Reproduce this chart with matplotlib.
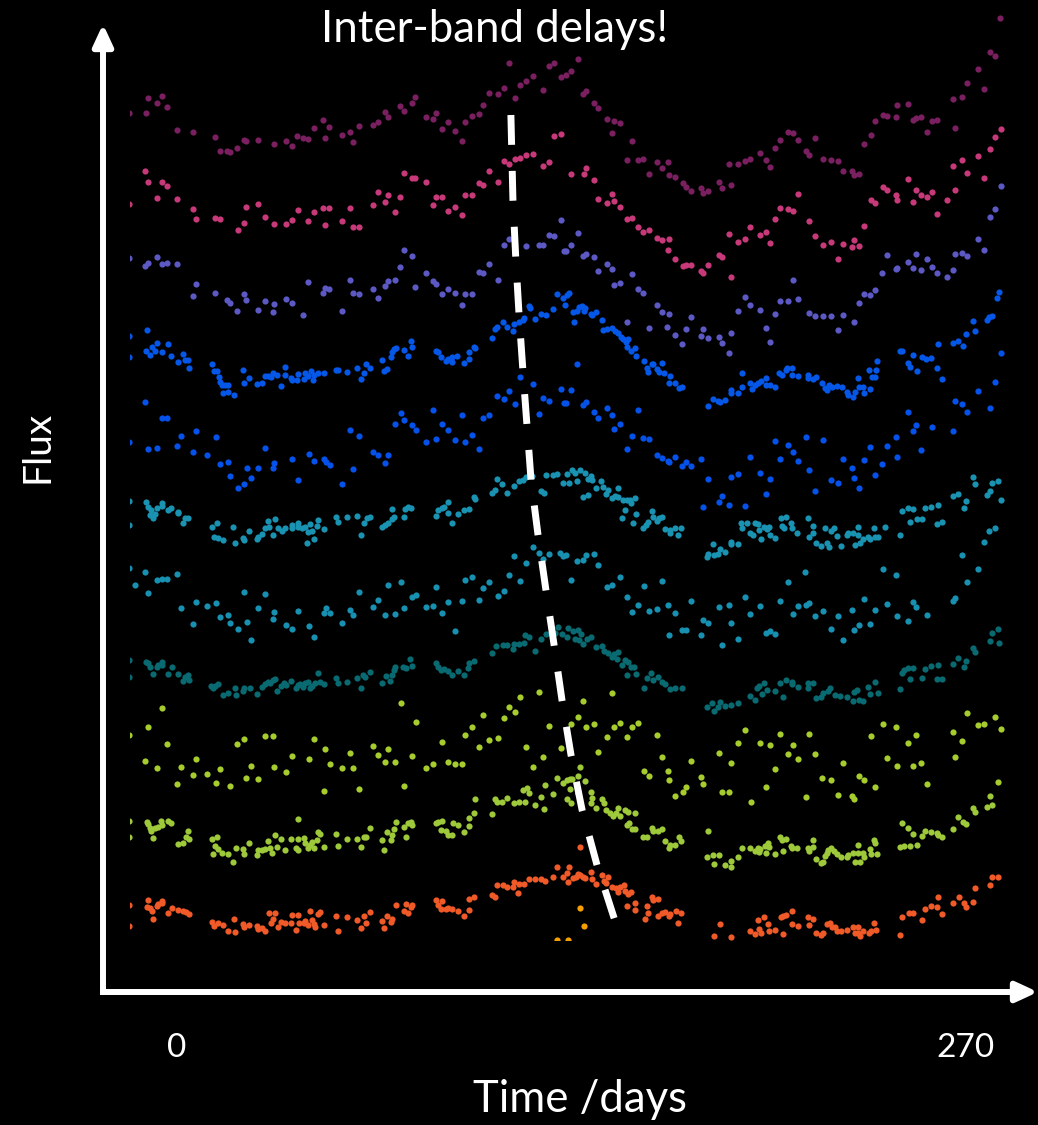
import matplotlib
matplotlib.use("Agg")
import matplotlib.pyplot as plt
from matplotlib.patches import FancyArrowPatch
from matplotlib import transforms

plt.rcParams['font.family'] = ['Lato', 'DejaVu Sans']

# light curves, one list per band: (time in days, flux + band offset)
band1 = [(-16.4, 82.7), (-10.7, 82.7), (-9.8, 84.2), (-6.7, 83.7), (-5.0, 84.4), (-3.3, 83.3), (0.1, 81.0),
         (5.5, 80.8), (13.1, 80.3), (14.6, 78.9), (17.2, 78.9), (18.1, 78.8), (20.7, 79.2), (23.1, 80.0),
         (23.7, 79.9), (27.8, 80.0), (33.2, 79.6), (37.2, 79.9), (39.3, 79.4), (41.2, 80.4), (43.1, 80.2),
         (45.0, 80.1), (46.8, 81.2), (50.1, 82.0), (50.8, 80.2), (52.2, 81.3), (56.6, 80.5), (59.4, 80.8),
         (60.3, 79.8), (62.4, 81.4), (67.0, 81.5), (68.8, 81.8), (71.2, 82.8), (72.3, 82.3), (76.5, 83.4),
         (77.7, 82.9), (80.6, 83.7), (81.6, 84.3), (85.4, 82.3), (87.8, 82.1), (88.8, 82.7), (90.8, 81.1),
         (92.8, 81.8), (95.2, 80.9), (97.6, 79.9), (98.7, 81.8), (101.0, 82.4), (103.4, 82.6), (104.7, 83.5),
         (106.8, 84.7), (109.9, 84.6), (112.1, 85.2), (113.8, 87.7), (115.9, 84.2), (117.6, 85.5), (119.7, 85.9),
         (122.0, 86.4), (125.4, 85.0), (127.4, 87.4), (129.2, 87.7), (131.6, 86.3), (133.2, 86.5), (134.9, 86.9),
         (137.3, 88.1), (139.0, 84.6), (140.0, 84.9), (143.0, 83.7), (144.2, 83.2), (147.3, 82.1), (149.7, 81.9),
         (151.8, 81.7), (149.0, 80.7), (155.9, 79.9), (154.2, 78.0), (157.8, 78.0), (159.8, 78.1), (161.6, 76.6),
         (164.3, 77.8), (166.3, 77.2), (168.3, 77.8), (168.7, 76.5), (170.7, 76.3), (173.4, 75.7), (174.4, 75.3),
         (176.1, 74.9), (179.4, 75.2), (180.2, 74.7), (181.9, 74.9), (185.6, 75.8), (186.6, 75.2), (189.7, 75.5),
         (189.0, 77.6), (192.1, 77.6), (194.5, 77.9), (196.4, 78.1), (199.8, 78.7), (201.9, 78.0), (203.3, 77.3),
         (205.0, 79.2), (206.7, 80.0), (209.2, 80.8), (211.0, 80.7), (212.8, 80.0), (215.4, 78.9), (216.5, 78.5),
         (218.5, 80.2), (221.2, 78.1), (224.2, 78.0), (226.6, 77.9), (228.3, 76.9), (231.4, 76.9), (232.0, 76.5),
         (233.8, 76.6), (235.5, 79.6), (237.8, 80.5), (239.1, 81.9), (241.8, 82.5), (243.1, 82.4), (246.2, 82.3),
         (246.6, 83.5), (250.3, 83.6), (252.1, 82.0), (253.1, 82.2), (254.8, 82.3), (256.8, 80.8), (258.6, 81.9),
         (260.5, 82.0), (265.9, 84.1), (266.5, 81.2), (268.9, 84.3), (270.7, 85.7), (274.4, 87.1), (276.5, 85.1),
         (278.4, 88.8), (280.2, 88.4), (282.1, 92.2)]

band2 = [(-16.4, 73.6), (-10.9, 76.9), (-9.8, 75.8), (-6.7, 74.2), (-5.0, 75.8), (-3.3, 75.4), (0.1, 74.1),
         (5.5, 73.1), (6.5, 72.1), (13.1, 72.2), (14.6, 72.1), (20.8, 71.0), (23.1, 71.7), (23.7, 73.3),
         (27.8, 73.6), (30.1, 72.3), (33.2, 71.6), (37.2, 71.6), (39.3, 72.0), (41.4, 73.0), (45.0, 71.9),
         (46.8, 72.8), (50.1, 73.2), (52.2, 73.2), (50.8, 71.5), (56.6, 71.9), (59.4, 73.2), (60.3, 71.3),
         (62.4, 71.3), (67.0, 73.5), (68.8, 74.8), (71.2, 73.8), (72.3, 74.5), (74.6, 72.8), (76.5, 74.3),
         (77.7, 76.7), (80.6, 76.2), (81.6, 76.2), (85.4, 75.8), (87.8, 73.5), (88.8, 74.3), (90.8, 74.3),
         (92.8, 72.9), (95.2, 73.3), (97.6, 72.5), (98.7, 74.5), (101.0, 74.5), (103.4, 75.7), (104.7, 75.5),
         (106.8, 76.9), (109.9, 75.8), (112.1, 77.9), (113.8, 77.6), (115.9, 78.1), (117.6, 78.2), (119.7, 78.5),
         (122.0, 78.6), (125.4, 77.4), (127.4, 77.8), (129.2, 80.4), (131.6, 80.6), (134.9, 76.6), (139.3, 76.6),
         (140.0, 77.2), (143.0, 76.0), (144.2, 74.1), (147.3, 73.7), (149.0, 74.6), (149.7, 73.9), (151.8, 73.3),
         (154.1, 72.1), (155.9, 72.2), (157.8, 71.3), (159.8, 70.8), (161.6, 71.0), (164.3, 70.2), (166.3, 70.0),
         (168.7, 70.1), (168.3, 69.0), (170.7, 68.1), (173.4, 67.4), (174.4, 67.5), (176.1, 67.5), (179.4, 66.9),
         (180.2, 66.7), (181.9, 67.5), (185.6, 68.5), (186.6, 68.3), (189.7, 66.3), (189.0, 70.6), (192.1, 69.8),
         (194.5, 70.1), (196.4, 71.3), (199.8, 70.5), (201.9, 70.8), (203.3, 69.7), (205.0, 72.1), (206.7, 73.2),
         (209.2, 73.1), (211.0, 72.9), (212.8, 74.6), (216.5, 71.9), (218.5, 70.4), (221.2, 69.5), (224.2, 69.8),
         (226.6, 68.1), (228.3, 69.6), (231.4, 69.3), (232.0, 70.0), (233.8, 69.4), (235.5, 71.4), (237.8, 74.0),
         (239.1, 73.7), (241.8, 75.3), (243.1, 75.0), (246.2, 74.5), (246.6, 74.0), (250.3, 76.1), (252.1, 73.8),
         (253.1, 75.0), (254.8, 74.5), (256.8, 74.3), (258.6, 74.8), (260.5, 72.6), (263.9, 74.0), (266.5, 75.0),
         (265.9, 77.4), (268.9, 78.0), (270.7, 76.7), (274.4, 78.4), (276.5, 76.2), (278.4, 79.1), (280.2, 80.3),
         (282.2, 81.1)]

band3 = [(-16.4, 68.2), (-10.9, 67.4), (-9.8, 67.7), (-6.7, 68.3), (-5.0, 67.6), (-3.3, 67.7), (0.1, 67.6),
         (5.5, 64.4), (6.5, 65.6), (13.1, 64.7), (17.2, 64.0), (18.1, 63.7), (20.7, 62.9), (23.1, 64.6),
         (23.7, 64.0), (27.8, 63.0), (30.1, 63.9), (32.9, 62.8), (33.2, 63.6), (37.2, 64.1), (39.3, 63.7),
         (43.1, 62.5), (45.0, 65.8), (50.1, 64.7), (50.8, 65.2), (52.2, 65.1), (56.6, 62.9), (59.4, 66.0),
         (60.3, 64.7), (62.4, 64.6), (67.0, 65.1), (68.8, 64.2), (71.2, 65.4), (72.3, 65.9), (74.6, 66.0),
         (76.5, 67.3), (77.7, 69.0), (80.6, 68.4), (81.6, 65.3), (85.4, 66.7), (87.8, 65.9), (88.8, 65.6),
         (90.8, 64.6), (92.8, 65.1), (95.2, 64.7), (97.6, 63.5), (98.7, 64.6), (101.0, 64.6), (103.4, 66.8),
         (104.7, 66.7), (106.8, 67.6), (109.9, 66.0), (112.1, 69.5), (113.8, 70.1), (119.7, 69.4), (124.0, 69.5),
         (125.4, 69.5), (127.4, 70.5), (129.2, 70.4), (131.5, 72.0), (132.5, 68.9), (137.3, 70.7), (133.2, 68.9),
         (134.9, 69.5), (139.0, 68.4), (140.0, 68.6), (143.0, 68.3), (144.2, 66.9), (147.3, 67.6), (149.0, 67.1),
         (149.7, 65.5), (151.8, 65.7), (155.9, 66.6), (157.8, 65.1), (159.8, 64.7), (154.1, 61.8), (161.6, 61.2),
         (164.3, 63.5), (166.3, 62.8), (168.7, 62.6), (168.0, 61.3), (170.7, 60.5), (173.1, 59.6), (174.5, 61.1),
         (176.1, 62.3), (179.4, 60.4), (180.2, 61.1), (181.9, 60.2), (185.6, 60.3), (186.6, 59.7), (189.0, 58.7),
         (189.7, 60.7), (192.1, 62.9), (194.5, 64.3), (196.4, 63.5), (199.8, 63.0), (201.9, 61.2), (203.3, 59.8),
         (205.0, 62.6), (206.7, 63.9), (209.2, 63.9), (211.0, 66.0), (212.8, 64.1), (216.5, 62.7), (218.5, 62.4),
         (221.2, 62.4), (224.2, 62.4), (226.6, 61.0), (228.3, 62.5), (232.0, 61.8), (233.8, 63.7), (235.5, 64.6),
         (237.4, 64.5), (239.1, 65.0), (241.5, 66.7), (243.1, 68.5), (246.2, 67.1), (246.6, 67.2), (250.3, 67.8),
         (252.1, 67.2), (253.1, 68.6), (254.8, 67.0), (256.8, 68.1), (258.6, 67.3), (260.5, 66.7), (263.9, 66.3),
         (265.9, 67.0), (266.5, 68.6), (268.9, 68.7), (270.7, 68.4), (274.4, 70.1), (276.5, 69.0), (278.4, 72.3),
         (280.2, 73.1), (282.2, 75.4)]

band4 = [(-16.4, 60.4), (-16.4, 58.3), (-10.2, 61.0), (-10.5, 58.9), (-9.1, 58.5), (-8.7, 59.3), (-7.4, 58.9),
         (-6.7, 59.7), (-5.0, 58.8), (-3.0, 59.6), (-2.0, 58.4), (0.3, 57.8), (2.2, 58.6), (2.8, 58.0),
         (3.9, 58.0), (4.2, 57.2), (12.0, 57.6), (12.7, 56.9), (13.7, 56.9), (14.4, 56.3), (14.7, 55.8),
         (15.4, 55.5), (16.4, 55.5), (17.6, 55.5), (15.7, 54.7), (17.6, 54.8), (19.6, 54.5), (22.7, 57.0),
         (23.1, 55.7), (24.8, 56.2), (27.4, 55.6), (29.1, 55.7), (30.1, 56.4), (31.2, 56.4), (32.2, 56.3),
         (32.9, 56.7), (34.3, 56.5), (35.6, 55.4), (37.0, 57.3), (37.0, 56.5), (39.0, 56.2), (39.5, 56.0),
         (41.2, 56.0), (41.6, 56.6), (43.4, 56.1), (43.8, 56.7), (44.8, 56.4), (45.8, 56.9), (46.5, 56.0),
         (47.0, 56.5), (48.4, 56.7), (50.3, 56.7), (54.6, 57.0), (55.3, 57.0), (58.3, 56.8), (61.7, 57.2),
         (63.0, 56.1), (64.1, 56.7), (64.8, 57.6), (66.1, 57.2), (70.1, 58.0), (70.8, 56.9), (71.8, 57.1),
         (73.2, 58.3), (73.6, 58.8), (74.2, 59.1), (74.9, 59.2), (77.7, 59.0), (79.0, 58.4), (80.1, 59.9),
         (80.6, 59.3), (88.8, 58.9), (89.5, 58.8), (90.6, 58.3), (92.2, 57.9), (92.9, 58.1), (94.3, 58.3),
         (94.3, 57.8), (95.9, 58.4), (98.2, 57.7), (99.9, 58.8), (99.9, 58.1), (101.7, 59.3), (102.0, 59.2),
         (108.0, 60.2), (108.9, 61.1), (109.5, 61.3), (111.7, 61.8), (113.0, 61.3), (115.2, 60.9), (115.6, 61.6),
         (117.2, 61.8), (118.6, 62.0), (119.0, 62.2), (120.5, 63.4), (120.8, 63.2), (122.7, 62.1), (124.7, 62.6),
         (126.5, 62.5), (128.7, 63.1), (130.1, 64.6), (132.1, 64.2), (132.9, 63.5), (133.5, 64.5), (134.3, 64.7),
         (136.1, 61.8), (135.8, 62.8), (137.1, 62.9), (137.7, 63.3), (138.7, 63.4), (139.4, 62.9), (139.8, 63.2),
         (141.8, 62.6), (143.7, 62.8), (142.1, 62.5), (145.7, 62.0), (146.1, 61.0), (147.4, 61.1), (149.1, 61.2),
         (150.1, 60.9), (151.2, 60.7), (152.1, 60.3), (152.9, 60.1), (153.8, 59.8), (154.6, 60.1), (154.2, 59.3),
         (155.5, 58.9), (156.9, 59.2), (157.2, 58.4), (159.9, 57.9), (161.0, 57.2), (161.3, 56.8), (162.6, 57.6),
         (163.2, 57.6), (164.6, 57.1), (165.1, 56.8), (166.3, 57.7), (167.0, 56.7), (168.8, 56.4), (168.7, 55.7),
         (170.7, 55.7), (172.0, 55.2), (172.9, 55.3), (181.8, 53.4), (183.7, 54.1), (185.5, 53.9), (186.0, 53.8),
         (187.7, 54.0), (189.7, 55.0), (189.7, 54.7), (192.3, 54.7), (193.5, 55.3), (193.5, 56.7), (196.2, 55.7),
         (197.1, 55.1), (198.0, 55.5), (199.2, 55.7), (200.0, 55.9), (201.9, 56.2), (201.9, 55.5), (203.2, 55.5),
         (204.9, 55.3), (206.2, 56.7), (207.2, 56.5), (208.5, 57.0), (209.0, 57.2), (210.8, 57.2), (210.8, 56.5),
         (212.7, 56.4), (216.1, 56.5), (216.3, 56.2), (218.0, 56.1), (218.9, 56.3), (220.9, 55.7), (222.0, 55.2),
         (222.8, 55.0), (223.4, 55.5), (224.3, 55.3), (226.0, 55.4), (227.7, 55.3), (229.6, 54.8), (230.0, 54.5),
         (231.7, 54.3), (232.3, 54.8), (233.2, 56.2), (233.7, 55.3), (235.1, 55.3), (235.5, 54.7), (237.1, 57.0),
         (237.4, 55.1), (238.2, 56.3), (239.1, 56.3), (239.4, 57.0), (239.8, 57.9), (247.7, 58.9), (248.5, 58.9),
         (252.1, 58.5), (250.5, 57.7), (251.2, 57.3), (253.4, 56.9), (255.1, 58.3), (256.5, 58.1), (258.3, 58.2),
         (260.3, 57.2), (260.8, 59.6), (262.2, 56.1), (265.8, 59.7), (267.7, 59.9), (269.4, 59.4), (270.3, 60.6),
         (273.4, 60.9), (272.8, 61.9), (277.4, 62.0), (278.3, 62.3), (279.1, 62.4), (281.0, 64.2), (281.7, 64.8)]

band5 = [(-10.9, 53.8), (-16.4, 49.8), (-9.8, 49.1), (-6.7, 49.2), (-5.0, 52.2), (-3.3, 52.2), (0.1, 49.4),
         (1.5, 50.4), (5.5, 48.8), (6.5, 50.9), (10.2, 48.5), (13.3, 50.3), (14.6, 47.6), (17.4, 47.8),
         (18.1, 46.4), (20.8, 45.2), (23.1, 45.6), (23.9, 47.2), (25.5, 46.2), (27.9, 47.2), (30.3, 49.2),
         (33.0, 47.2), (33.3, 47.7), (39.4, 48.1), (41.4, 46.0), (45.1, 48.6), (46.8, 47.9), (50.3, 48.1),
         (50.9, 47.8), (52.3, 47.5), (56.6, 45.6), (59.4, 51.0), (60.4, 47.1), (62.5, 50.4), (67.2, 48.8),
         (68.9, 48.5), (71.3, 47.7), (72.3, 48.5), (74.7, 51.6), (76.6, 52.7), (77.7, 52.0), (80.6, 51.5),
         (81.8, 51.0), (85.4, 49.8), (87.8, 53.0), (88.8, 50.1), (90.9, 51.6), (92.9, 51.0), (95.2, 50.0),
         (97.6, 52.5), (98.6, 49.8), (101.0, 50.5), (103.4, 49.1), (104.7, 52.2), (106.8, 52.5), (109.7, 54.4),
         (112.1, 54.1), (113.8, 54.9), (115.9, 53.6), (117.6, 56.3), (122.0, 55.6), (124.0, 52.6), (125.4, 54.2),
         (127.4, 53.9), (131.5, 55.1), (132.5, 53.7), (133.2, 53.7), (134.9, 55.0), (137.1, 57.6), (139.0, 53.5),
         (140.0, 53.8), (143.0, 52.8), (144.2, 52.2), (147.3, 53.2), (149.0, 52.5), (149.7, 51.1), (151.8, 51.6),
         (154.1, 49.1), (155.9, 50.4), (157.8, 53.0), (159.8, 50.2), (161.6, 50.1), (164.3, 48.5), (166.3, 48.2),
         (168.3, 47.9), (168.7, 47.8), (170.7, 48.3), (173.1, 47.4), (174.5, 47.8), (176.1, 47.4), (179.4, 48.1),
         (181.9, 46.1), (180.2, 43.3), (185.6, 43.8), (186.6, 44.4), (189.0, 43.5), (189.7, 46.3), (192.1, 46.6),
         (194.5, 43.4), (196.4, 48.3), (199.8, 46.7), (201.9, 44.6), (203.3, 46.1), (205.0, 49.9), (206.7, 48.1),
         (209.2, 49.5), (211.0, 48.8), (212.8, 47.9), (215.4, 50.3), (216.5, 47.0), (218.5, 44.9), (221.2, 50.0),
         (224.2, 46.0), (226.6, 45.7), (228.3, 48.1), (231.4, 47.2), (232.0, 46.2), (233.8, 45.2), (235.5, 48.0),
         (237.4, 49.3), (239.1, 46.5), (241.5, 47.6), (243.1, 49.4), (246.2, 50.3), (246.6, 48.3), (250.3, 52.8),
         (252.1, 50.9), (253.1, 51.5), (254.8, 49.0), (258.6, 51.3), (265.9, 50.9), (266.5, 53.9), (268.9, 53.6),
         (270.7, 52.8), (274.4, 54.9), (278.4, 53.2), (280.2, 55.8), (282.2, 58.7)]

band6 = [(-16.4, 43.9), (-16.4, 41.5), (-10.5, 43.8), (-9.8, 43.3), (-8.9, 43.0), (-9.1, 42.5), (-8.1, 42.2),
         (-7.5, 42.6), (-6.7, 43.2), (-5.2, 43.7), (-5.0, 43.4), (-3.0, 43.0), (-2.0, 43.2), (0.3, 42.8),
         (0.4, 42.7), (2.2, 41.7), (2.7, 42.2), (3.9, 42.2), (12.1, 41.3), (13.6, 41.7), (12.8, 40.3),
         (14.1, 40.2), (15.8, 40.0), (19.9, 39.7), (19.3, 41.3), (22.7, 40.2), (23.0, 40.0), (24.8, 40.9),
         (27.4, 40.1), (27.6, 40.3), (29.1, 40.6), (30.1, 41.2), (31.3, 41.9), (31.5, 41.3), (33.0, 40.5),
         (33.6, 42.1), (34.7, 41.2), (35.9, 40.9), (37.0, 41.2), (39.3, 41.5), (39.3, 41.2), (41.6, 41.7),
         (41.4, 41.3), (42.7, 41.2), (43.9, 41.3), (44.8, 40.8), (44.4, 39.7), (45.6, 41.6), (46.1, 40.9),
         (47.0, 40.1), (47.9, 41.4), (48.4, 42.0), (50.3, 41.1), (54.5, 42.3), (55.3, 41.8), (58.3, 42.3),
         (61.8, 42.4), (63.0, 40.5), (64.1, 41.7), (65.0, 42.2), (66.1, 42.3), (70.1, 41.3), (71.3, 41.5),
         (72.4, 41.7), (73.6, 42.1), (74.3, 42.3), (73.6, 43.1), (77.7, 42.3), (78.1, 43.1), (79.0, 43.3),
         (80.1, 43.2), (88.8, 42.4), (89.5, 43.0), (90.7, 43.2), (91.6, 43.3), (92.7, 43.8), (92.9, 42.7),
         (94.3, 41.7), (96.2, 42.6), (98.2, 43.0), (99.9, 43.1), (101.7, 44.3), (102.0, 44.1), (107.8, 44.7),
         (108.9, 45.0), (109.5, 46.1), (111.4, 45.6), (113.0, 44.7), (115.6, 45.4), (117.2, 45.9), (118.6, 46.0),
         (119.7, 46.3), (121.7, 46.4), (124.7, 44.9), (125.8, 44.7), (126.4, 46.5), (128.9, 46.5), (130.2, 46.6),
         (132.1, 45.7), (133.5, 46.6), (134.3, 45.7), (135.2, 47.0), (136.4, 46.7), (137.1, 45.9), (138.1, 47.0),
         (139.8, 46.7), (139.2, 44.3), (140.7, 44.5), (140.9, 46.1), (141.8, 46.4), (142.3, 46.0), (143.7, 45.2),
         (145.3, 45.9), (145.8, 45.3), (146.9, 44.6), (147.8, 45.0), (149.1, 44.2), (150.1, 44.4), (151.2, 45.2),
         (151.2, 44.3), (152.9, 44.0), (153.5, 43.0), (152.4, 42.2), (154.1, 44.0), (155.2, 44.0), (155.5, 43.7),
         (156.9, 44.2), (157.2, 42.6), (156.3, 41.7), (159.8, 41.2), (160.6, 41.5), (161.3, 41.8), (162.6, 42.9),
         (163.2, 42.3), (164.3, 41.9), (165.1, 42.2), (166.3, 42.3), (167.2, 41.1), (168.9, 40.7), (168.9, 41.0),
         (170.7, 41.2), (171.7, 40.5), (172.7, 41.2), (181.6, 38.3), (182.0, 38.6), (183.6, 39.6), (183.9, 38.5),
         (185.5, 38.6), (185.9, 39.1), (187.7, 38.8), (189.7, 39.6), (189.7, 39.8), (192.3, 39.6), (193.2, 41.7),
         (193.5, 41.2), (195.2, 41.7), (196.2, 40.7), (197.4, 40.5), (198.0, 41.7), (199.2, 41.6), (199.4, 41.0),
         (200.1, 40.1), (201.2, 41.3), (202.0, 41.1), (202.9, 41.3), (203.2, 40.5), (204.9, 40.2), (206.8, 42.2),
         (207.2, 41.4), (208.1, 41.2), (208.5, 42.3), (210.4, 41.7), (210.8, 41.2), (212.4, 40.7), (216.1, 42.2),
         (216.5, 40.3), (218.0, 41.4), (218.0, 40.7), (218.8, 39.7), (220.6, 39.4), (222.0, 41.2), (222.6, 39.7),
         (223.5, 39.3), (224.1, 40.9), (225.2, 41.2), (226.0, 40.4), (227.5, 39.4), (229.4, 40.5), (230.0, 40.7),
         (231.5, 40.7), (232.3, 39.5), (233.2, 41.3), (233.4, 40.5), (234.0, 39.7), (235.1, 40.1), (236.8, 40.3),
         (237.4, 40.1), (238.9, 41.2), (239.1, 40.3), (240.1, 40.3), (242.6, 41.3), (247.7, 40.5), (248.3, 42.9),
         (250.5, 43.2), (251.2, 41.8), (252.3, 43.1), (253.4, 42.1), (255.1, 42.1), (256.3, 43.2), (258.3, 43.3),
         (260.3, 41.6), (260.8, 43.5), (262.2, 41.8), (265.9, 44.4), (267.7, 44.6), (269.7, 43.2), (270.3, 43.9),
         (272.8, 46.3), (273.4, 45.6), (277.4, 44.5), (278.5, 44.9), (279.1, 45.7), (281.2, 45.9), (282.3, 44.0)]

band7 = [(-16.4, 37.2), (-14.4, 35.5), (-10.9, 36.8), (-6.7, 36.0), (-5.0, 36.1), (-3.3, 36.1), (0.1, 36.6),
         (-9.8, 34.7), (1.5, 33.2), (5.5, 31.6), (6.5, 33.8), (10.2, 33.4), (13.3, 33.7), (14.6, 32.3),
         (17.4, 32.5), (18.1, 31.7), (20.8, 31.1), (23.1, 34.8), (23.9, 31.8), (25.5, 30.0), (27.9, 33.2),
         (30.3, 34.6), (33.0, 32.1), (33.3, 32.8), (37.3, 31.5), (39.4, 31.1), (41.4, 32.9), (45.1, 31.4),
         (46.8, 30.3), (50.3, 32.7), (50.9, 33.2), (52.3, 32.7), (56.6, 31.7), (59.4, 33.0), (60.4, 32.5),
         (62.5, 34.8), (67.2, 33.3), (68.9, 34.0), (71.3, 32.5), (72.3, 35.5), (74.7, 32.6), (76.6, 35.8),
         (77.7, 33.2), (80.6, 34.3), (81.8, 34.5), (85.4, 33.3), (87.8, 33.4), (88.8, 35.3), (90.9, 32.7),
         (92.9, 33.8), (95.2, 30.9), (97.6, 33.9), (98.6, 36.0), (101.0, 36.3), (103.4, 34.0), (104.7, 35.2),
         (106.8, 35.8), (109.9, 34.4), (112.1, 34.9), (113.8, 36.5), (117.6, 35.9), (115.4, 38.4), (119.6, 37.7),
         (122.0, 39.3), (124.0, 38.7), (125.4, 38.1), (127.4, 38.6), (131.3, 38.7), (132.1, 38.4), (133.2, 38.5),
         (137.1, 37.9), (139.0, 38.0), (140.0, 38.5), (143.0, 38.6), (144.2, 37.5), (134.9, 36.0), (147.4, 35.3),
         (149.1, 35.5), (151.8, 36.3), (159.9, 35.4), (166.3, 35.9), (154.1, 34.3), (155.8, 32.8), (157.8, 33.5),
         (161.6, 32.9), (164.3, 33.1), (168.3, 33.5), (170.7, 32.7), (168.7, 30.5), (173.1, 31.0), (174.5, 31.0),
         (176.1, 33.9), (179.4, 30.5), (180.2, 32.0), (181.9, 31.7), (185.6, 33.3), (186.6, 29.5), (189.0, 33.5),
         (189.7, 31.7), (192.1, 30.1), (194.5, 34.3), (196.4, 32.6), (199.8, 33.4), (201.9, 30.7), (203.3, 30.9),
         (205.0, 30.6), (206.7, 33.9), (209.2, 35.8), (211.0, 32.6), (212.8, 33.4), (215.0, 36.8), (215.4, 33.5),
         (216.5, 33.7), (218.5, 32.4), (221.2, 32.9), (224.2, 31.1), (226.6, 32.4), (228.3, 30.0), (231.4, 33.0),
         (232.0, 31.0), (233.8, 31.5), (235.5, 34.1), (237.4, 31.6), (239.1, 33.0), (241.8, 37.1), (243.1, 33.6),
         (246.2, 36.5), (246.6, 32.4), (250.3, 31.9), (252.1, 33.8), (253.1, 33.3), (256.8, 32.5), (265.9, 33.9),
         (266.5, 34.2), (268.9, 38.5), (270.7, 35.8), (274.4, 37.1), (276.4, 39.8), (278.3, 40.9), (280.2, 41.2)]

band8 = [(-16.4, 28.0), (-16.4, 26.3), (-10.5, 27.8), (-10.0, 27.7), (-9.1, 27.3), (-8.1, 26.6), (-7.0, 27.3),
         (-6.4, 27.5), (-5.0, 27.8), (-5.0, 27.5), (-3.0, 26.6), (-1.8, 27.3), (0.4, 26.6), (2.2, 25.9),
         (2.8, 26.3), (3.9, 26.5), (4.1, 26.0), (11.6, 25.4), (12.4, 25.2), (13.0, 25.4), (14.1, 25.6),
         (15.9, 24.5), (17.6, 24.7), (19.9, 25.2), (20.2, 24.5), (22.7, 24.9), (23.1, 25.2), (25.0, 25.2),
         (27.5, 24.6), (29.0, 25.3), (30.1, 25.6), (31.1, 25.8), (32.0, 25.7), (33.0, 26.0), (33.6, 26.1),
         (34.2, 24.9), (35.6, 25.4), (36.8, 25.7), (37.2, 25.5), (39.1, 25.9), (40.7, 25.2), (41.4, 25.5),
         (42.0, 25.6), (43.3, 25.3), (43.9, 25.7), (45.0, 25.8), (45.7, 25.2), (46.4, 25.4), (47.3, 25.7),
         (48.4, 26.7), (49.0, 25.8), (50.5, 25.6), (54.5, 26.2), (55.3, 25.7), (58.3, 25.8), (61.8, 26.2),
         (63.0, 25.2), (63.8, 26.5), (64.4, 26.3), (66.1, 26.8), (70.1, 25.7), (71.6, 26.4), (73.0, 25.9),
         (73.6, 26.5), (74.2, 27.0), (74.7, 27.3), (77.5, 27.3), (78.4, 27.2), (79.8, 28.1), (80.6, 27.4),
         (88.7, 27.7), (89.5, 27.3), (90.4, 27.0), (91.6, 27.1), (92.7, 26.9), (94.3, 26.5), (96.2, 26.9),
         (98.2, 26.5), (99.8, 27.2), (100.1, 27.7), (101.9, 27.9), (108.0, 28.7), (109.2, 29.4), (111.8, 29.5),
         (113.1, 29.5), (115.2, 29.1), (115.4, 29.6), (117.2, 29.6), (119.0, 29.7), (119.2, 30.5), (120.6, 30.3),
         (122.7, 28.9), (124.7, 30.1), (126.4, 30.6), (129.5, 30.7), (132.0, 30.6), (130.4, 31.3), (133.5, 30.3),
         (134.1, 31.2), (135.8, 30.9), (136.4, 30.1), (137.3, 31.0), (137.7, 30.0), (138.4, 30.6), (139.2, 29.6),
         (140.4, 30.1), (141.8, 30.3), (143.7, 29.3), (145.5, 29.4), (146.4, 28.9), (147.8, 28.7), (149.1, 28.3),
         (149.8, 28.6), (150.6, 28.1), (151.2, 28.8), (152.4, 27.5), (153.5, 28.0), (154.1, 26.5), (154.6, 27.8),
         (155.5, 27.3), (156.7, 27.3), (157.2, 26.6), (160.1, 25.2), (160.9, 26.2), (162.4, 26.7), (163.2, 26.0),
         (164.9, 26.3), (166.1, 25.8), (167.2, 25.6), (168.9, 25.1), (170.6, 25.2), (172.9, 25.2), (181.6, 23.3),
         (183.2, 23.7), (183.9, 22.9), (185.5, 23.3), (186.0, 23.8), (187.7, 23.4), (189.7, 23.5), (192.3, 23.7),
         (196.2, 24.4), (198.0, 24.0), (198.6, 25.2), (199.4, 25.4), (200.3, 24.6), (201.2, 25.7), (202.0, 25.0),
         (204.9, 24.9), (206.7, 25.7), (207.6, 24.3), (208.5, 26.0), (210.8, 25.8), (210.6, 25.6), (212.9, 25.3),
         (216.3, 25.7), (216.1, 25.2), (218.0, 25.7), (218.8, 24.2), (220.6, 24.3), (221.4, 24.7), (222.9, 24.9),
         (223.7, 25.2), (225.4, 24.5), (227.1, 24.4), (229.4, 24.3), (231.7, 23.9), (232.0, 24.8), (233.0, 25.0),
         (233.8, 24.0), (235.1, 23.9), (236.8, 25.3), (237.4, 24.6), (239.1, 25.8), (240.1, 24.7), (247.7, 25.1),
         (248.3, 26.7), (249.2, 27.0), (250.5, 27.2), (251.2, 26.1), (252.3, 27.2), (255.1, 26.2), (256.3, 27.1),
         (258.3, 27.4), (260.3, 26.1), (260.8, 27.5), (262.2, 26.1), (265.9, 27.6), (267.7, 28.2), (269.7, 27.3),
         (270.3, 27.9), (272.8, 29.2), (273.4, 28.8), (278.5, 29.9), (279.1, 30.7), (281.2, 31.1), (281.7, 29.7)]

band9 = [(-16.4, 20.5), (-9.8, 21.3), (-5.0, 23.2), (-10.9, 17.9), (-6.7, 17.2), (-3.3, 19.6), (1.5, 17.3),
         (6.5, 18.1), (14.6, 17.1), (20.7, 19.6), (23.1, 20.1), (25.5, 17.4), (30.3, 20.4), (33.0, 20.4),
         (33.3, 17.3), (39.4, 18.4), (45.1, 18.1), (46.8, 20.1), (50.8, 19.1), (52.3, 17.6), (56.6, 17.2),
         (59.4, 18.7), (60.4, 17.2), (67.2, 19.4), (68.9, 18.5), (71.3, 17.8), (72.3, 19.1), (74.7, 17.8),
         (76.6, 23.7), (80.6, 18.4), (81.8, 21.8), (85.4, 17.2), (87.8, 17.6), (90.9, 19.8), (92.9, 17.8),
         (95.2, 17.6), (97.6, 17.6), (98.6, 20.5), (101.0, 21.3), (103.4, 19.3), (104.7, 22.5), (106.8, 20.0),
         (109.9, 20.2), (112.1, 22.2), (113.8, 23.3), (115.9, 22.8), (117.6, 24.3), (119.7, 19.3), (122.0, 17.3),
         (124.0, 24.8), (125.4, 18.3), (127.4, 21.4), (131.6, 19.2), (139.0, 23.9), (149.1, 24.7), (137.3, 22.3),
         (134.9, 21.6), (140.0, 21.3), (143.0, 21.6), (144.2, 18.8), (147.4, 20.3), (149.8, 21.3), (151.8, 21.7),
         (154.1, 20.3), (155.8, 21.3), (157.8, 21.7), (164.3, 20.5), (166.3, 18.3), (176.1, 17.9), (185.6, 18.7),
         (189.7, 17.7), (192.1, 19.7), (194.5, 21.0), (199.8, 19.7), (203.3, 19.5), (206.7, 20.6), (209.2, 18.6),
         (211.0, 19.5), (212.8, 18.1), (216.5, 20.6), (218.5, 18.6), (228.3, 17.7), (237.8, 20.4), (241.8, 21.6),
         (243.1, 18.2), (246.2, 21.3), (246.6, 17.4), (250.3, 19.7), (252.1, 17.4), (253.1, 20.5), (254.8, 17.7),
         (265.9, 20.8), (266.5, 18.3), (268.9, 19.9), (270.7, 22.7), (274.4, 21.5), (276.5, 21.6), (280.2, 22.3),
         (282.2, 21.1), (0.0, 15.6), (5.5, 16.5), (10.2, 16.6), (13.3, 15.7), (18.1, 15.4), (23.7, 16.2),
         (27.9, 16.1), (37.3, 16.8), (50.3, 14.9), (62.5, 15.1), (77.7, 15.4), (159.9, 16.9), (161.6, 16.4),
         (168.3, 16.9), (168.7, 16.0), (170.7, 14.4), (173.5, 14.8), (174.5, 15.3), (179.5, 16.3), (180.3, 15.6),
         (186.6, 14.8), (189.0, 14.8), (196.5, 13.8), (201.9, 15.3), (205.0, 17.1), (215.4, 14.3), (221.1, 16.2),
         (224.2, 16.0), (226.6, 14.5), (231.2, 14.4), (232.0, 14.1), (233.8, 16.4), (235.5, 16.0), (239.1, 15.3),
         (256.8, 15.6), (281.2, 15.8)]

band10 = [(-16.4, 11.9), (-16.4, 10.3), (-10.4, 11.8), (-9.8, 11.6), (-8.9, 10.9), (-9.3, 11.2), (-8.1, 10.2),
          (-7.5, 11.2), (-6.4, 11.3), (-5.5, 11.9), (-5.0, 11.5), (-3.2, 11.9), (-2.1, 11.7), (0.4, 9.6),
          (2.2, 9.7), (3.0, 10.3), (3.9, 10.9), (4.1, 10.1), (11.9, 10.1), (13.6, 10.3), (12.2, 8.6),
          (13.0, 9.4), (13.9, 9.1), (15.5, 8.7), (17.6, 8.6), (19.3, 7.8), (20.1, 9.2), (22.7, 9.1),
          (23.1, 8.6), (24.8, 9.7), (27.4, 8.5), (27.6, 9.0), (29.1, 9.0), (30.1, 9.1), (31.1, 9.9),
          (32.0, 9.2), (32.4, 8.7), (33.6, 10.5), (34.2, 9.3), (35.6, 10.1), (37.0, 9.0), (39.1, 10.1),
          (40.7, 9.2), (41.4, 10.1), (41.6, 9.0), (43.4, 10.2), (43.9, 9.7), (44.8, 9.2), (45.6, 9.5),
          (46.1, 9.8), (47.0, 9.2), (47.9, 10.0), (48.4, 10.8), (49.0, 10.6), (50.3, 9.3), (41.4, 12.1),
          (54.6, 10.6), (55.3, 9.4), (58.3, 10.1), (61.8, 10.1), (63.0, 9.3), (64.1, 10.3), (64.8, 10.3),
          (66.1, 11.2), (70.1, 10.0), (70.8, 9.0), (71.8, 10.8), (73.3, 10.0), (73.6, 10.5), (74.2, 11.1),
          (74.9, 11.8), (77.7, 11.3), (78.4, 10.3), (79.0, 11.7), (80.1, 11.8), (80.6, 11.5), (88.6, 11.7),
          (89.5, 11.8), (90.7, 11.9), (90.4, 11.0), (92.1, 10.9), (92.7, 10.5), (94.3, 10.5), (94.7, 11.7),
          (96.2, 11.5), (98.2, 10.8), (99.9, 11.4), (99.9, 12.2), (101.7, 12.7), (102.0, 14.1), (107.8, 12.6),
          (108.9, 14.1), (109.5, 13.8), (111.4, 13.8), (113.0, 14.2), (115.6, 13.7), (117.2, 13.8), (119.2, 13.8),
          (118.6, 15.0), (119.8, 15.2), (120.6, 14.7), (122.7, 13.5), (124.7, 14.3), (125.8, 13.1), (126.2, 15.5),
          (128.8, 14.6), (130.2, 16.2), (132.1, 15.7), (133.5, 16.0), (134.6, 16.1), (135.4, 16.1), (137.5, 16.4),
          (138.2, 17.3), (139.8, 15.9), (134.6, 15.1), (133.5, 14.1), (135.0, 13.7), (137.5, 14.7), (141.8, 14.8),
          (142.1, 14.2), (141.8, 13.7), (143.7, 13.2), (145.5, 14.1), (146.4, 13.7), (146.9, 13.0), (148.3, 12.7),
          (149.5, 12.4), (150.3, 12.7), (151.2, 13.2), (151.8, 12.4), (153.5, 13.0), (154.6, 12.8), (154.1, 11.5),
          (154.9, 11.7), (156.9, 12.7), (156.0, 11.1), (156.9, 11.1), (159.8, 10.3), (160.9, 10.3), (162.6, 11.2),
          (163.2, 10.9), (164.9, 10.9), (166.3, 11.1), (167.2, 9.9), (168.7, 9.2), (168.9, 9.5), (170.7, 9.5),
          (172.0, 10.3), (172.7, 9.9), (181.9, 10.9), (181.6, 8.3), (183.7, 8.5), (183.9, 7.6), (185.6, 8.5),
          (187.7, 7.5), (189.7, 7.9), (189.7, 7.3), (192.3, 8.3), (193.5, 9.2), (196.3, 9.2), (198.0, 8.9),
          (198.9, 9.2), (199.4, 8.8), (199.7, 9.1), (201.4, 9.4), (201.7, 8.7), (202.6, 9.7), (202.8, 9.3),
          (204.9, 8.6), (206.6, 10.3), (207.2, 10.0), (208.5, 10.1), (207.6, 8.9), (210.4, 9.4), (210.8, 9.2),
          (212.4, 9.2), (216.1, 9.2), (216.5, 8.9), (218.0, 10.0), (218.0, 9.3), (218.8, 8.1), (220.6, 7.7),
          (221.4, 7.8), (222.0, 8.4), (222.6, 8.7), (223.1, 9.0), (224.1, 9.2), (225.2, 8.9), (226.0, 8.6),
          (227.5, 8.3), (229.4, 8.3), (229.8, 8.5), (231.7, 8.7), (232.3, 7.8), (233.2, 9.5), (233.4, 8.7),
          (234.0, 7.8), (235.1, 8.7), (235.5, 8.3), (237.4, 9.1), (237.8, 8.6), (238.9, 10.0), (239.1, 9.7),
          (239.8, 8.6), (247.7, 9.3), (248.3, 11.7), (249.2, 9.4), (250.5, 11.2), (251.2, 9.4), (252.3, 10.6),
          (253.4, 9.5), (255.1, 10.4), (256.3, 10.9), (258.3, 10.8), (260.3, 10.7), (260.8, 10.5), (262.2, 10.3),
          (265.9, 11.1), (267.7, 12.3), (269.4, 11.8), (270.3, 11.6), (272.8, 13.2), (273.4, 12.8), (277.4, 13.3),
          (278.4, 14.4), (279.1, 13.5)]

band11 = [(-16.4, 3.5), (-16.4, 1.4), (-10.4, 3.3), (-10.0, 4.0), (-9.3, 3.2), (-8.7, 2.9), (-8.1, 2.1),
          (-7.0, 3.4), (-6.4, 3.6), (-5.2, 3.7), (-5.0, 3.9), (-3.0, 2.7), (-1.8, 3.2), (0.4, 3.0),
          (2.2, 2.9), (3.0, 2.8), (4.1, 2.6), (11.9, 1.8), (12.8, 1.4), (14.1, 1.7), (15.9, 1.5),
          (17.6, 0.9), (19.9, 0.8), (19.6, 2.1), (22.7, 1.6), (23.1, 1.3), (24.7, 1.5), (27.4, 1.4),
          (27.9, 1.1), (29.2, 1.2), (30.1, 0.9), (31.5, 2.7), (32.1, 1.7), (33.6, 2.7), (33.0, 2.1),
          (34.5, 1.3), (35.6, 1.8), (37.0, 1.7), (39.1, 1.7), (39.3, 2.5), (40.7, 1.0), (41.4, 2.5),
          (41.8, 1.7), (43.4, 1.7), (43.9, 1.9), (44.8, 1.5), (45.7, 2.9), (46.1, 2.0), (46.8, 1.6),
          (47.3, 1.3), (48.4, 2.6), (49.0, 2.8), (50.3, 1.5), (54.6, 2.4), (55.3, 0.9), (58.3, 2.3),
          (61.8, 2.0), (63.0, 1.2), (64.1, 2.4), (64.8, 1.7), (66.1, 2.8), (70.1, 1.9), (70.8, 1.2),
          (71.8, 2.4), (73.3, 1.8), (73.6, 2.1), (74.9, 3.5), (77.7, 2.9), (78.4, 3.6), (79.0, 2.7),
          (80.1, 3.3), (80.6, 3.5), (88.8, 4.0), (90.7, 3.9), (89.5, 3.5), (90.4, 3.1), (92.1, 3.1),
          (92.7, 3.2), (94.3, 3.1), (96.2, 2.9), (98.2, 2.4), (99.9, 3.0), (99.9, 4.1), (101.9, 4.3),
          (108.0, 4.5), (108.9, 4.3), (109.5, 5.5), (111.8, 5.5), (113.0, 5.3), (115.2, 5.3), (115.6, 5.8),
          (116.9, 4.7), (117.2, 5.6), (119.0, 5.6), (120.6, 6.1), (122.7, 6.1), (124.7, 6.1), (126.2, 5.9),
          (128.7, 6.3), (130.2, 7.3), (132.1, 6.3), (133.5, 6.7), (134.3, 7.3), (133.9, 5.8), (135.8, 6.2),
          (136.6, 6.3), (137.5, 6.6), (138.1, 6.5), (139.2, 6.3), (139.8, 6.2), (141.8, 6.8), (142.1, 6.1),
          (143.7, 5.6), (145.5, 6.5), (146.4, 5.9), (146.9, 5.7), (147.8, 6.3), (149.1, 5.3), (150.3, 5.2),
          (151.2, 4.8), (151.8, 5.3), (153.2, 5.5), (153.5, 4.9), (154.6, 4.6), (155.5, 4.8), (154.1, 3.4),
          (156.9, 3.7), (156.9, 3.0), (160.3, 2.1), (160.9, 3.4), (161.3, 2.7), (162.6, 4.3), (163.2, 4.0),
          (164.9, 4.1), (164.9, 2.4), (166.3, 2.7), (167.2, 2.8), (168.6, 2.4), (168.9, 2.6), (170.8, 2.9),
          (171.7, 1.7), (172.7, 2.7), (138.2, 9.3), (184.0, 0.4), (185.9, 1.6), (189.7, 0.3), (196.2, 0.9),
          (198.0, 0.6), (199.2, 2.0), (199.4, 1.1), (200.1, 0.7), (201.2, 2.3), (202.6, 1.6), (202.9, 0.9),
          (204.9, 1.0), (206.8, 2.3), (207.7, 2.4), (208.5, 2.5), (207.6, 0.6), (210.6, 2.9), (210.8, 1.6),
          (212.7, 1.4), (216.1, 2.3), (216.5, 1.5), (218.0, 2.1), (218.8, 0.7), (220.6, 0.5), (221.4, 0.7),
          (222.6, 1.6), (223.7, 1.7), (224.3, 1.3), (225.4, 1.3), (226.0, 0.9), (227.5, 0.9), (229.4, 1.0),
          (231.7, 1.3), (232.3, 0.7), (233.2, 1.3), (233.4, 0.7), (234.0, 0.4), (235.1, 0.9), (237.1, 0.7),
          (237.8, 0.9), (238.9, 1.7), (239.4, 1.0), (247.7, 0.5), (248.3, 2.3), (250.8, 2.7), (252.3, 2.7),
          (255.1, 2.0), (256.3, 3.1), (258.3, 3.4), (260.3, 3.3), (260.8, 4.3), (262.2, 2.6), (265.9, 3.7),
          (267.9, 4.3), (269.7, 3.7), (270.3, 3.3), (272.8, 3.8), (273.4, 5.2), (278.5, 5.5), (279.1, 6.3),
          (281.2, 6.3)]

band12 = [(138.2, 3.2), (139.5, 1.4), (133.9, 0.0), (130.2, 0.0)]

bands = [band1, band2, band3, band4, band5, band6, band7, band8, band9, band10, band11, band12]
colours = ['#7a1f5f', '#c8397a', '#5c58c4', '#0557e8', '#0552ea', '#1a92b2',
           '#1790b1', '#096a72', '#a6cc2e', '#9ec93a', '#f05a28', '#f5a000']

# peak of each band traced by eye
delay_t = [114.4, 115.1, 116.1, 117.2, 118.5, 119.9, 121.3, 123.7, 126.4, 129.2, 131.9, 135.0, 138.8, 143.9, 150.2]
delay_f = [82.5, 74.0, 68.0, 62.5, 57.0, 51.5, 46.0, 40.5, 35.0, 29.5, 24.0, 18.5, 13.0, 7.5, 1.8]

W, H = 1038, 1125
fig = plt.figure(figsize=(W / 100, H / 100), dpi=100, facecolor='black')
ax = fig.add_axes([130 / W, 1 - 940 / H, 880 / W, 930 / H])
ax.set_facecolor('black')
ax.set_xlim(-16.1, 285.4)
ax.set_ylim(0, 93)
ax.axis('off')

for band, col in zip(bands, colours):
    t, f = zip(*band)
    ax.scatter(t, f, s=20, color=col, linewidths=0, zorder=2)

ax.plot(delay_t, delay_f, color='white', lw=5, dashes=(4.3, 3.75), zorder=3)

# axis arrows drawn on the figure
def arrow(x0, y0, x1, y1):
    a = FancyArrowPatch((x0 / W, 1 - y0 / H), (x1 / W, 1 - y1 / H), transform=fig.transFigure,
                        arrowstyle='-|>,head_length=13,head_width=6', mutation_scale=1,
                        color='white', lw=4.3, shrinkA=0, shrinkB=0, capstyle='butt')
    fig.add_artist(a)

arrow(103, 995, 103, 24)
arrow(100, 992, 1038, 992)

fig.text(495 / W, 1 - 29 / H, 'Inter-band delays!', color='white', fontsize=31.5, ha='center', va='center')
fig.text(38 / W, 1 - 447 / H, 'Flux', color='white', fontsize=28, rotation=90, ha='center', va='center')
fig.text(580 / W, 1 - 1100 / H, 'Time /days', color='white', fontsize=31.5, ha='center', va='center')

tick_tr = transforms.blended_transform_factory(ax.transData, fig.transFigure)
for d in [0, 270]:
    ax.text(d, 1 - 1048 / H, str(d), transform=tick_tr, color='white', fontsize=24,
            ha='center', va='center', clip_on=False)

fig.savefig('out.png', dpi=100, facecolor='black')
